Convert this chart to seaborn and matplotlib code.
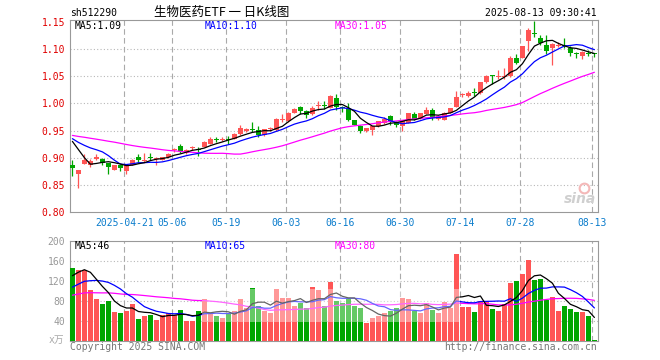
import numpy as np
import pandas as pd
import matplotlib
matplotlib.use("Agg")
import matplotlib.pyplot as plt
from matplotlib.patches import Rectangle
from matplotlib.lines import Line2D
import seaborn as sns

# ---------------- data ----------------
opens = [0.887, 0.870, 0.888, 0.886, 0.897, 0.898, 0.890, 0.878, 0.887, 0.875,
         0.887, 0.902, 0.894, 0.901, 0.898, 0.896, 0.901, 0.914, 0.921, 0.909,
         0.917, 0.916, 0.920, 0.926, 0.934, 0.933, 0.934, 0.935, 0.944, 0.950,
         0.952, 0.951, 0.941, 0.952, 0.951, 0.970, 0.967, 0.983, 0.993, 0.986,
         0.980, 0.996, 0.996, 0.992, 1.010, 0.992, 0.989, 0.969, 0.959, 0.950,
         0.951, 0.958, 0.963, 0.976, 0.965, 0.959, 0.964, 0.981, 0.973, 0.981,
         0.987, 0.971, 0.970, 0.983, 0.994, 1.015, 1.013, 1.020, 1.019, 1.039,
         1.051, 1.049, 1.049, 1.050, 1.084, 1.084, 1.114, 1.130, 1.120, 1.108,
         1.102, 1.106, 1.108, 1.102, 1.092, 1.087, 1.092, 1.091]
highs = [0.895, 0.877, 0.906, 0.898, 0.907, 0.899, 0.891, 0.887, 0.889, 0.886,
         0.898, 0.906, 0.908, 0.908, 0.901, 0.902, 0.908, 0.918, 0.926, 0.916,
         0.921, 0.920, 0.930, 0.938, 0.938, 0.938, 0.940, 0.945, 0.960, 0.955,
         0.966, 0.958, 0.953, 0.957, 0.973, 0.981, 0.985, 0.991, 0.995, 0.988,
         0.995, 1.005, 1.005, 1.016, 1.017, 0.995, 1.001, 0.970, 0.961, 0.955,
         0.959, 0.968, 0.974, 0.978, 0.968, 0.970, 0.983, 0.984, 0.983, 0.993,
         0.991, 0.978, 0.984, 0.992, 1.022, 1.019, 1.022, 1.028, 1.040, 1.053,
         1.052, 1.061, 1.065, 1.088, 1.090, 1.106, 1.138, 1.151, 1.126, 1.126,
         1.112, 1.113, 1.120, 1.105, 1.094, 1.096, 1.098, 1.093]
lows = [0.866, 0.844, 0.888, 0.883, 0.895, 0.887, 0.870, 0.877, 0.876, 0.870,
        0.886, 0.890, 0.892, 0.895, 0.886, 0.895, 0.900, 0.911, 0.909, 0.906,
        0.914, 0.904, 0.919, 0.925, 0.928, 0.930, 0.926, 0.934, 0.941, 0.947,
        0.948, 0.939, 0.940, 0.949, 0.950, 0.966, 0.966, 0.982, 0.980, 0.973,
        0.979, 0.987, 0.989, 0.991, 0.987, 0.985, 0.968, 0.960, 0.945, 0.947,
        0.942, 0.957, 0.962, 0.960, 0.956, 0.950, 0.963, 0.970, 0.972, 0.980,
        0.969, 0.970, 0.969, 0.982, 0.993, 1.011, 1.012, 1.014, 1.018, 1.038,
        1.035, 1.045, 1.045, 1.049, 1.073, 1.083, 1.096, 1.123, 1.108, 1.090,
        1.071, 1.104, 1.102, 1.087, 1.084, 1.082, 1.088, 1.085]
closes = [0.881, 0.877, 0.895, 0.893, 0.901, 0.891, 0.883, 0.886, 0.881, 0.886,
          0.895, 0.896, 0.896, 0.900, 0.899, 0.901, 0.907, 0.916, 0.912, 0.915,
          0.918, 0.915, 0.929, 0.934, 0.933, 0.934, 0.933, 0.944, 0.954, 0.951,
          0.951, 0.941, 0.952, 0.953, 0.972, 0.971, 0.983, 0.990, 0.986, 0.978,
          0.992, 0.997, 0.995, 1.013, 0.993, 0.991, 0.969, 0.961, 0.949, 0.954,
          0.958, 0.967, 0.972, 0.966, 0.960, 0.969, 0.982, 0.971, 0.982, 0.988,
          0.973, 0.977, 0.983, 0.991, 1.012, 1.016, 1.020, 1.019, 1.039, 1.051,
          1.050, 1.050, 1.051, 1.084, 1.075, 1.105, 1.135, 1.128, 1.111, 1.097,
          1.109, 1.107, 1.106, 1.093, 1.091, 1.094, 1.091, 1.090]
volumes = [145, 141, 142, 102, 84, 74, 79, 58, 56, 60,
           74, 44, 50, 52, 42, 52, 56, 52, 62, 40,
           40, 60, 84, 55, 50, 45, 55, 60, 84, 65,
           106, 70, 60, 55, 104, 86, 86, 70, 75, 65,
           108, 102, 70, 117, 80, 75, 86, 70, 65, 36,
           45, 50, 55, 60, 65, 86, 84, 60, 55, 76,
           62, 55, 78, 65, 173, 68, 68, 58, 80, 80,
           64, 60, 74, 115, 119, 133, 161, 121, 123, 82,
           88, 60, 70, 64, 58, 58, 50, 2.4]
# closes / volumes of the 29 sessions before the window (only used for the moving averages)
prior_closes = [0.935, 0.940, 0.948, 0.952, 0.946, 0.941, 0.938, 0.944, 0.950, 0.955,
                0.948, 0.942, 0.939, 0.944, 0.949, 0.946, 0.940, 0.943, 0.945, 0.936,
                0.945, 0.950, 0.940, 0.935, 0.930, 0.952, 0.970, 0.953, 0.894]
prior_volumes = [70, 75, 88, 92, 80, 76, 85, 95, 90, 78, 72, 84, 88, 81, 79, 86, 92, 85, 80, 84,
                 80, 85, 90, 78, 87, 106, 117, 128, 154]
tick_index = [9, 17, 26, 36, 45, 55, 65, 75, 87]
tick_labels = ["2025-04-21", "05-06", "05-19", "06-03", "06-16", "06-30", "07-14", "07-28", "08-13"]
price_ticks = [0.80, 0.85, 0.90, 0.95, 1.00, 1.05, 1.10, 1.15]
volume_ticks = [40, 80, 120, 160, 200]
price_ma_labels = ["MA5:1.09", "MA10:1.10", "MA30:1.05"]
volume_ma_labels = ["MA5:46", "MA10:65", "MA30:80"]
code = "sh512290"
title = "生物医药ETF 一 日K线图"
timestamp = "2025-08-13 09:30:41"

# ---------------- derived ----------------
n = len(closes)
idx = np.arange(n)
all_c = pd.Series(prior_closes + closes)
all_v = pd.Series(prior_volumes + volumes)
k = len(prior_closes)
df = pd.DataFrame({
    "i": idx,
    "open": opens, "high": highs, "low": lows, "close": closes, "vol": volumes,
    "ma5": all_c.rolling(5).mean().values[k:],
    "ma10": all_c.rolling(10).mean().values[k:],
    "ma30": all_c.rolling(30).mean().values[k:],
    "vma5": all_v.rolling(5).mean().values[k:],
    "vma10": all_v.rolling(10).mean().values[k:],
    "vma30": all_v.rolling(30).mean().values[k:],
})
df["dir"] = np.where(df["close"] >= df["open"], "up", "down")

RED = "#ff5555"
GREEN = "#00a600"
BLUE = "#0000ff"
MAG = "#ff00ff"
GRID = "#b8b8b8"
SPINE = "#999999"

sns.set_theme(style="white")
plt.rcParams["font.family"] = ["DejaVu Sans Mono", "Noto Sans CJK SC"]

W, H = 660, 360
fig = plt.figure(figsize=(6.6, 3.6), dpi=100)
fig.patch.set_facecolor("white")

def fx(px):
    return px / W

def fy(py):
    return 1 - py / H

ax = fig.add_axes([fx(70), fy(212), fx(528), 192 / H])
axv = fig.add_axes([fx(70), fy(340.7), fx(528), 100 / H])

xlim = (-0.4, n - 0.4)
vpos = [t - 0.33 for t in tick_index]

# ---------------- price panel ----------------
colors = np.where(df["dir"] == "up", RED, GREEN)
ax.vlines(df["i"], df["low"], df["high"], colors=colors, linewidth=0.9, zorder=3)
body_bottom = np.minimum(df["open"], df["close"])
body_h = np.maximum(np.abs(df["close"] - df["open"]), 0.0019)
ax.bar(df["i"], body_h, bottom=body_bottom, width=0.75, color=colors, linewidth=0, zorder=4)

sns.lineplot(data=df, x="i", y="ma30", ax=ax, color=MAG, linewidth=0.9, zorder=5)
sns.lineplot(data=df, x="i", y="ma10", ax=ax, color=BLUE, linewidth=0.9, zorder=6)
sns.lineplot(data=df, x="i", y="ma5", ax=ax, color="black", linewidth=0.9, zorder=7)

ax.set_xlim(*xlim)
ax.set_ylim(0.80, 1.1535)
ax.set_yticks(price_ticks)
ax.set_yticklabels([f"{t:.2f}" for t in price_ticks], color="#e00000", fontsize=7)
for t in price_ticks[1:-1]:
    ax.axhline(t, color=GRID, linestyle=(0, (1, 2)), linewidth=0.8, zorder=1)
for v in vpos:
    ax.axvline(v, color="#aaaaaa", linestyle=(0, (5, 3)), linewidth=0.8, zorder=1)
ax.set_xticks(vpos)
ax.set_xticklabels(tick_labels, color="#0a7ccc", fontsize=7)
ax.tick_params(axis="both", length=0, pad=3.5)
ax.tick_params(axis="x", pad=4.5)
ax.set_xlabel("")
ax.set_ylabel("")

# sina watermark (figure pixel coordinates)
fig.text(fx(580), fy(199), "sina", fontsize=10, fontstyle="italic", fontweight="bold",
         color="#cfcfcf", ha="center", va="center", family="DejaVu Sans", zorder=2)
fig.add_artist(Line2D([fx(584)], [fy(188)], marker="o", markersize=7, markerfacecolor="none",
                      markeredgecolor="#f4b8b8", markeredgewidth=1.5, transform=fig.transFigure))

# ---------------- volume panel ----------------
sns.barplot(data=df, x="i", y="vol", hue="dir", palette={"up": RED, "down": GREEN},
            native_scale=True, dodge=False, width=0.83, saturation=1, errorbar=None,
            legend=False, linewidth=0, ax=axv, zorder=3)
sns.lineplot(data=df, x="i", y="vma30", ax=axv, color=MAG, linewidth=0.9, zorder=5)
sns.lineplot(data=df, x="i", y="vma10", ax=axv, color=BLUE, linewidth=0.9, zorder=6)
sns.lineplot(data=df, x="i", y="vma5", ax=axv, color="black", linewidth=0.9, zorder=7)

axv.set_xlim(*xlim)
axv.set_ylim(0, 200)
axv.set_yticks(volume_ticks)
axv.set_yticklabels([str(t) for t in volume_ticks], color="#999999", fontsize=7)
for t in volume_ticks[:-1]:
    axv.axhline(t, color=GRID, linestyle=(0, (1, 2)), linewidth=0.8, zorder=1)
for v in vpos:
    axv.axvline(v, color="#aaaaaa", linestyle=(0, (5, 3)), linewidth=0.8, zorder=1)
axv.set_xticks([])
axv.tick_params(axis="both", length=0, pad=3.5)
axv.set_xlabel("")
axv.set_ylabel("")

# faded watermark band over the middle of the volume panel
fig.add_artist(Rectangle((fx(202), fy(322)), fx(258), 33 / H, transform=fig.transFigure,
                         facecolor="white", edgecolor="none", alpha=0.4, zorder=10))

for a in (ax, axv):
    a.set_facecolor("white")
    for s in a.spines.values():
        s.set_color(SPINE)
        s.set_linewidth(0.8)
        s.set_visible(True)

# ---------------- texts ----------------
fig.text(fx(70), fy(12.5), code, fontsize=7, color="black", ha="left", va="center")
fig.text(fx(222), fy(12), title, fontsize=9, color="black", ha="center", va="center",
         family=["Noto Sans CJK SC", "DejaVu Sans"])
fig.text(fx(597), fy(12.5), timestamp, fontsize=7, color="black", ha="right", va="center")

ma_x = [75, 205, 335]
ma_c = ["black", BLUE, MAG]
for xx, lab, c in zip(ma_x, price_ma_labels, ma_c):
    fig.text(fx(xx), fy(26), lab, fontsize=7, color=c, ha="left", va="center")
for xx, lab, c in zip(ma_x, volume_ma_labels, ma_c):
    fig.text(fx(xx), fy(246), lab, fontsize=7, color=c, ha="left", va="center")

fig.text(fx(64), fy(340), "x万", fontsize=7, color="#aaaaaa", ha="right", va="center",
         family=["DejaVu Sans Mono", "Noto Sans CJK SC"])
fig.text(fx(70), fy(346.5), "Copyright 2025 SINA.COM", fontsize=7, color="#777777",
         ha="left", va="center")
fig.text(fx(597), fy(346.5), "http://finance.sina.com.cn", fontsize=7, color="#777777",
         ha="right", va="center")

fig.savefig("out.png", dpi=100, facecolor="white")
